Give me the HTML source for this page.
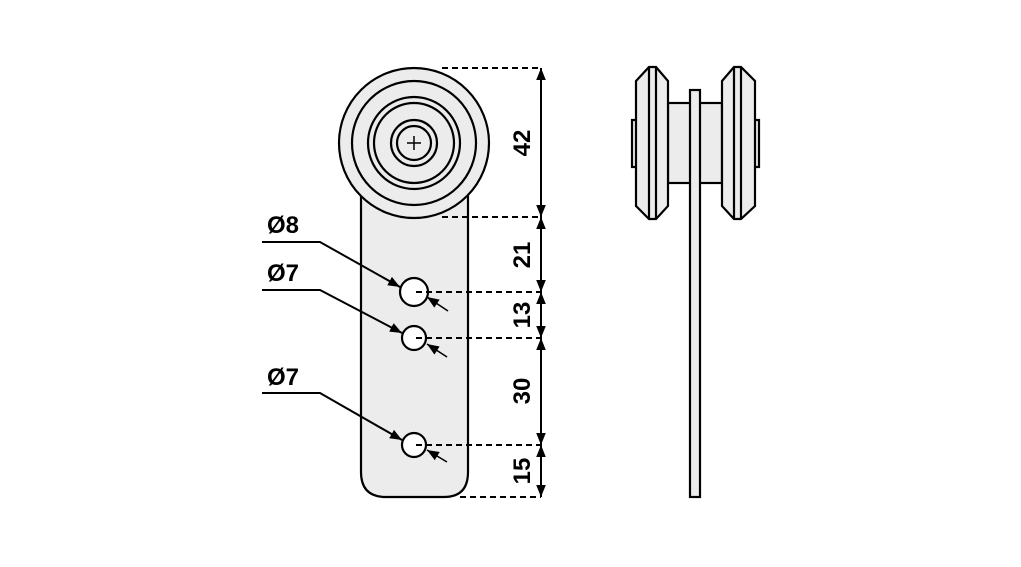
<!DOCTYPE html>
<html><head><meta charset="utf-8"><style>
html,body{margin:0;padding:0;background:#fff;}
svg{display:block;}
text{font-family:"Liberation Sans Narrow","Liberation Sans",sans-serif;font-weight:bold;font-size:24px;fill:#000;}
</style></head><body>
<svg width="1021" height="567" viewBox="0 0 1021 567" xmlns="http://www.w3.org/2000/svg">
<defs>
<marker id="a" viewBox="0 0 10 10" refX="10" refY="5" markerWidth="12" markerHeight="12" orient="auto-start-reverse" markerUnits="userSpaceOnUse"><path d="M0,1 L10,5 L0,9 Z" fill="#000"/></marker>
</defs>
<g stroke="#000" stroke-width="2.2" fill="#ececec">
<path d="M361,190 L361,472 Q361,497 386,497 L444,497 Q468,497 468,472 L468,190 Z"/>
<circle cx="414" cy="143" r="75"/>
<circle cx="414" cy="143" r="62"/>
<circle cx="414" cy="143" r="46"/>
<circle cx="414" cy="143" r="40"/>
<circle cx="414" cy="143" r="23"/>
<circle cx="414" cy="143" r="17"/>
<circle cx="414" cy="292" r="14" fill="#fff"/>
<circle cx="414" cy="338" r="12" fill="#fff"/>
<circle cx="414" cy="445" r="12" fill="#fff"/>
</g>
<path d="M407,143 H421 M414,136 V150" stroke="#000" stroke-width="1.5"/>
<g stroke="#000" stroke-width="2" stroke-dasharray="6,4" fill="none">
<path d="M442,68 H541"/>
<path d="M442,217 H541"/>
<path d="M416,292 H541"/>
<path d="M416,338 H541"/>
<path d="M416,445 H541"/>
<path d="M460,497 H541"/>
</g>
<g stroke="#000" stroke-width="2" fill="none">
<line x1="541" y1="68" x2="541" y2="217" marker-start="url(#a)" marker-end="url(#a)"/>
<line x1="541" y1="217" x2="541" y2="292" marker-start="url(#a)" marker-end="url(#a)"/>
<line x1="541" y1="292" x2="541" y2="338" marker-start="url(#a)" marker-end="url(#a)"/>
<line x1="541" y1="338" x2="541" y2="445" marker-start="url(#a)" marker-end="url(#a)"/>
<line x1="541" y1="445" x2="541" y2="497" marker-start="url(#a)" marker-end="url(#a)"/>
<path d="M262,242 H320 L400,287" marker-end="url(#a)"/>
<path d="M262,290 H320 L402,333" marker-end="url(#a)"/>
<path d="M262,393 H320 L402,440" marker-end="url(#a)"/>
<path d="M448,311 L427,297" marker-end="url(#a)" stroke-width="1.6"/>
<path d="M447,357 L427,344" marker-end="url(#a)" stroke-width="1.6"/>
<path d="M447,462 L427,450" marker-end="url(#a)" stroke-width="1.6"/>
</g>
<text x="267" y="233">Ø8</text>
<text x="267" y="281">Ø7</text>
<text x="267" y="385">Ø7</text>
<g>
<text transform="translate(530,143) rotate(-90)" text-anchor="middle">42</text>
<text transform="translate(530,255) rotate(-90)" text-anchor="middle">21</text>
<text transform="translate(530,315) rotate(-90)" text-anchor="middle">13</text>
<text transform="translate(530,391) rotate(-90)" text-anchor="middle">30</text>
<text transform="translate(530,471) rotate(-90)" text-anchor="middle">15</text>
</g>
<g stroke="#000" stroke-width="2.2" fill="#ececec">
<rect x="632" y="120" width="5" height="47"/>
<rect x="754" y="120" width="5" height="47"/>
<rect x="668" y="103" width="54" height="80"/>
<path d="M649,67 L656,67 L668,81 L668,206 L656,219 L649,219 L636,206 L636,81 Z"/>
<path d="M649,67 V219 M656,67 V219" fill="none"/>
<path d="M734,67 L741,67 L755,81 L755,206 L741,219 L734,219 L722,206 L722,81 Z"/>
<path d="M734,67 V219 M741,67 V219" fill="none"/>
<rect x="690" y="90" width="10" height="407"/>
</g>
</svg>
</body></html>
